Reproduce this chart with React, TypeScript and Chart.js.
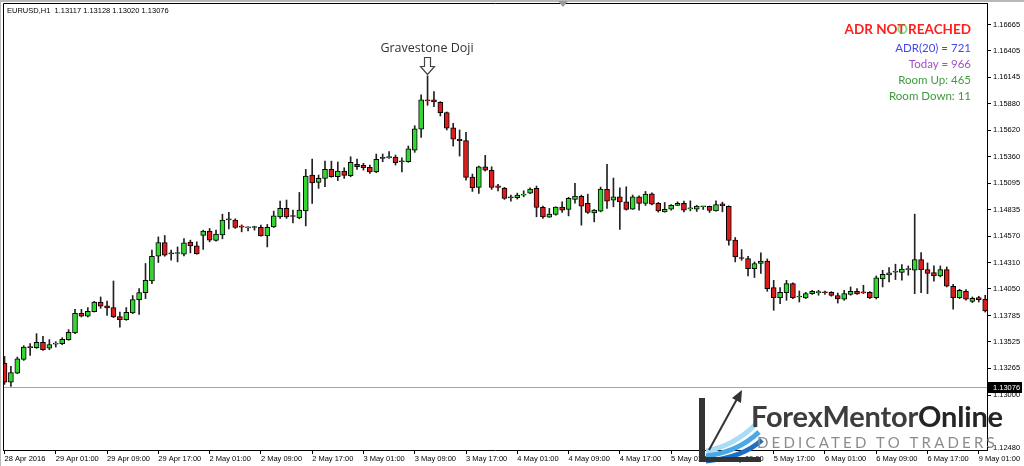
import React, { useEffect, useRef } from "react";
import { Chart, registerables } from "chart.js";

Chart.register(...registerables);

// ---- data (EURUSD H1, bar 0 = 28 Apr 2016 17:00) ----
const opens = [
  1.13316, 1.13127, 1.13217, 1.13352, 1.13471, 1.13468, 1.13521, 1.13464, 1.13504, 1.13508,
  1.13548, 1.13613, 1.13808, 1.13781, 1.13825, 1.1392, 1.13881, 1.13865, 1.13776, 1.13746,
  1.13811, 1.13944, 1.14013, 1.14128, 1.14373, 1.14509, 1.144, 1.144, 1.14393, 1.14512,
  1.14475, 1.14578, 1.14621, 1.14529, 1.14584, 1.14737, 1.1473, 1.14663, 1.14654, 1.14657,
  1.1466, 1.14574, 1.14663, 1.14763, 1.14846, 1.14772, 1.14753, 1.14822, 1.15176, 1.15103,
  1.15143, 1.15232, 1.15159, 1.15215, 1.15169, 1.15282, 1.15272, 1.15252, 1.15208, 1.15344,
  1.15349, 1.15354, 1.1531, 1.15308, 1.15423, 1.15629, 1.15914, 1.15919, 1.15896, 1.15793,
  1.15642, 1.1553, 1.15516, 1.15156, 1.15054, 1.15258, 1.15222, 1.1507, 1.15047, 1.14953,
  1.14951, 1.14977, 1.14997, 1.15044, 1.14856, 1.1476, 1.14786, 1.14859, 1.14836, 1.14935,
  1.14965, 1.14895, 1.14802, 1.14819, 1.15034, 1.14928, 1.14961, 1.14911, 1.14839, 1.14961,
  1.14895, 1.1499, 1.14895, 1.14812, 1.14839, 1.14876, 1.14895, 1.14842, 1.14839, 1.14862,
  1.14866, 1.14822, 1.14891, 1.14866, 1.14532, 1.14353, 1.1435, 1.14251, 1.14301, 1.14326,
  1.14063, 1.13964, 1.14013, 1.14102, 1.1397, 1.1396, 1.14003, 1.14013, 1.14013, 1.14016,
  1.13984, 1.13947, 1.13994, 1.14026, 1.14013, 1.14016, 1.13964, 1.14148, 1.14188, 1.14214,
  1.14212, 1.14241, 1.14234, 1.1434, 1.14241, 1.14212, 1.14178, 1.14241, 1.14076, 1.13964,
  1.14026, 1.13927, 1.13964, 1.13947,
];
const highs = [
  1.13382, 1.13283, 1.13375, 1.13488, 1.13508, 1.13607, 1.1358, 1.13548, 1.13528, 1.13567,
  1.13647, 1.13848, 1.13848, 1.13865, 1.13927, 1.1397, 1.1393, 1.14128, 1.13821, 1.13865,
  1.13984, 1.14053, 1.14301, 1.14433, 1.14564, 1.14578, 1.14433, 1.14465, 1.14548, 1.14532,
  1.14515, 1.14631, 1.14648, 1.14631, 1.14789, 1.14806, 1.14743, 1.14683, 1.14663, 1.1467,
  1.1468, 1.14687, 1.14819, 1.14919, 1.14929, 1.14829, 1.15004, 1.15232, 1.15334, 1.15176,
  1.15314, 1.15314, 1.15305, 1.15248, 1.15357, 1.15334, 1.15292, 1.15275, 1.15384, 1.15384,
  1.15407, 1.15374, 1.15347, 1.15463, 1.15664, 1.15969, 1.16157, 1.16001, 1.15902, 1.158,
  1.15688, 1.15622, 1.15599, 1.15186, 1.15265, 1.15371, 1.15258, 1.15084, 1.15054, 1.14978,
  1.14997, 1.1502, 1.1505, 1.15067, 1.14869, 1.14846, 1.14862, 1.14911, 1.14955, 1.15094,
  1.14978, 1.14987, 1.14836, 1.15057, 1.15282, 1.15146, 1.1505, 1.1506, 1.14978, 1.14971,
  1.15014, 1.15, 1.14905, 1.14905, 1.14885, 1.14911, 1.14918, 1.14921, 1.14876, 1.14864,
  1.14869, 1.14921, 1.14908, 1.14872, 1.14558, 1.14439, 1.14373, 1.14317, 1.14406, 1.14346,
  1.14135, 1.14063, 1.14135, 1.14109, 1.14029, 1.14016, 1.14036, 1.14036, 1.14029, 1.14023,
  1.14009, 1.14036, 1.14069, 1.14053, 1.14086, 1.14023, 1.14178, 1.14234, 1.14261, 1.14294,
  1.14291, 1.14277, 1.14789, 1.1441, 1.14307, 1.14277, 1.14277, 1.14267, 1.14096, 1.14046,
  1.14043, 1.1397, 1.13977, 1.13987,
];
const lows = [
  1.13105, 1.13085, 1.13211, 1.13342, 1.13392, 1.13461, 1.13441, 1.13448, 1.13474, 1.13498,
  1.13541, 1.13607, 1.13772, 1.13772, 1.13821, 1.13858, 1.13788, 1.13766, 1.13672, 1.13739,
  1.13805, 1.13798, 1.13954, 1.14102, 1.14311, 1.14373, 1.14333, 1.14317, 1.14376, 1.14406,
  1.14393, 1.1444, 1.14515, 1.14522, 1.14545, 1.14644, 1.14648, 1.14614, 1.14624, 1.14631,
  1.14571, 1.14465, 1.14657, 1.14747, 1.14747, 1.14703, 1.14743, 1.14673, 1.14895, 1.15044,
  1.1506, 1.15153, 1.15121, 1.15143, 1.15159, 1.15232, 1.15225, 1.15193, 1.15199, 1.15308,
  1.15341, 1.15275, 1.15208, 1.15302, 1.15401, 1.15549, 1.15866, 1.15853, 1.1576, 1.15622,
  1.15463, 1.15364, 1.15126, 1.15014, 1.14994, 1.15215, 1.15034, 1.1502, 1.14935, 1.14918,
  1.14938, 1.14961, 1.14992, 1.14763, 1.14747, 1.14757, 1.14779, 1.14806, 1.14772, 1.14898,
  1.1468, 1.14796, 1.14713, 1.14812, 1.14846, 1.14862, 1.14638, 1.14829, 1.14836, 1.14829,
  1.14875, 1.14881, 1.14809, 1.14809, 1.14829, 1.14874, 1.14812, 1.14822, 1.14816, 1.14836,
  1.14806, 1.14819, 1.14812, 1.14482, 1.14317, 1.14333, 1.14178, 1.14162, 1.14202, 1.14026,
  1.13838, 1.13904, 1.13937, 1.13954, 1.1392, 1.13954, 1.13994, 1.13987, 1.13994, 1.13977,
  1.1391, 1.13937, 1.13987, 1.13994, 1.14003, 1.13954, 1.1395, 1.14069, 1.14118, 1.14142,
  1.14135, 1.14185, 1.14003, 1.14013, 1.14003, 1.14125, 1.14168, 1.14069, 1.13848, 1.13954,
  1.13937, 1.13914, 1.1392, 1.13821,
];
const closes = [
  1.13127, 1.13221, 1.13359, 1.13474, 1.13468, 1.13521, 1.13448, 1.13498, 1.13508, 1.1355,
  1.1362, 1.13808, 1.13781, 1.13828, 1.1392, 1.13878, 1.13861, 1.13772, 1.13746, 1.13818,
  1.13944, 1.14013, 1.14135, 1.14373, 1.14509, 1.14383, 1.14396, 1.14403, 1.14505, 1.14475,
  1.14396, 1.14621, 1.14532, 1.14591, 1.1473, 1.14733, 1.14657, 1.14661, 1.14656, 1.14659,
  1.14574, 1.1466, 1.14772, 1.14846, 1.14763, 1.14766, 1.14829, 1.15166, 1.15099, 1.15143,
  1.15232, 1.15159, 1.15215, 1.15173, 1.15302, 1.15258, 1.15248, 1.15208, 1.15331, 1.15341,
  1.15351, 1.15298, 1.15307, 1.15436, 1.15632, 1.15919, 1.15909, 1.15899, 1.15793, 1.15639,
  1.1553, 1.15516, 1.15153, 1.1505, 1.15258, 1.15225, 1.15054, 1.15054, 1.14945, 1.1495,
  1.14978, 1.14979, 1.15037, 1.14856, 1.14763, 1.14789, 1.14859, 1.14829, 1.14945, 1.14968,
  1.14869, 1.14806, 1.14829, 1.15037, 1.14918, 1.14961, 1.14911, 1.14836, 1.14961, 1.14895,
  1.14987, 1.14888, 1.14822, 1.14836, 1.14876, 1.14895, 1.14829, 1.14844, 1.14869, 1.14863,
  1.14826, 1.14885, 1.14872, 1.14529, 1.14366, 1.1435, 1.14251, 1.14301, 1.14326, 1.14053,
  1.13964, 1.14016, 1.14102, 1.13964, 1.13972, 1.14003, 1.14026, 1.14015, 1.14012, 1.13984,
  1.1395, 1.14003, 1.14026, 1.13999, 1.14011, 1.13964, 1.14158, 1.14195, 1.14208, 1.14216,
  1.14247, 1.14243, 1.1434, 1.14241, 1.14202, 1.14178, 1.14241, 1.14076, 1.13964, 1.14036,
  1.13947, 1.13957, 1.13944, 1.13831,
];

const timeTickLabels = [
  "28 Apr 2016", "29 Apr 01:00", "29 Apr 09:00", "29 Apr 17:00", "2 May 01:00",
  "2 May 09:00", "2 May 17:00", "3 May 01:00", "3 May 09:00", "3 May 17:00",
  "4 May 01:00", "4 May 09:00", "4 May 17:00", "5 May 01:00", "5 May 09:00",
  "5 May 17:00", "6 May 01:00", "6 May 09:00", "6 May 17:00", "9 May 01:00",
];
const barsPerTimeTick = 8;

const priceTicks = [
  1.16665, 1.16405, 1.16145, 1.1588, 1.1562, 1.1536, 1.15095, 1.14835, 1.1457, 1.1431,
  1.1405, 1.13785, 1.13525, 1.13265, 1.13, 1.1248,
];
const priceMin = 1.12456;
const priceMax = 1.16878;
const currentPrice = 1.13076;

const headerText = "EURUSD,H1  1.13117 1.13128 1.13020 1.13076";
const annotationText = "Gravestone Doji";
const adrTitle = "ADR NOT REACHED";
const adrLines = ["ADR(20) = 721", "Today = 966", "Room Up: 465", "Room Down: 11"];
const adrColors = ["#4646ee", "#a050c0", "#3e9e3e", "#3c9a3c"];

const BULL = "#33d633";
const BEAR = "#dd1c1c";
const AXIS_FONT = { family: "'Liberation Sans', Arial, sans-serif", size: 7.5 };

const mtPlugin = {
  id: "mtExtras",
  beforeDatasetsDraw(chart: any) {
    const { ctx, chartArea: a, scales } = chart;
    const py = Math.round(scales.y.getPixelForValue(currentPrice)) + 0.5;
    ctx.save();
    ctx.strokeStyle = "#a4a4a4";
    ctx.lineWidth = 1;
    ctx.beginPath();
    ctx.moveTo(a.left, py);
    ctx.lineTo(a.right, py);
    ctx.stroke();
    ctx.restore();
  },
  afterDraw(chart: any) {
    const { ctx, chartArea: a, scales } = chart;
    ctx.save();
    ctx.strokeStyle = "#000";
    ctx.lineWidth = 1;
    ctx.beginPath();
    ctx.moveTo(a.left + 0.5, a.bottom);
    ctx.lineTo(a.left + 0.5, a.top + 0.5);
    ctx.lineTo(a.right, a.top + 0.5);
    ctx.stroke();
    // current price tag on the axis
    const py = Math.round(scales.y.getPixelForValue(currentPrice));
    ctx.fillStyle = "#000";
    ctx.fillRect(a.right + 1, py - 5, 1022 - a.right - 1, 11);
    ctx.fillStyle = "#fff";
    ctx.font = "7.5px 'Liberation Sans', Arial, sans-serif";
    ctx.textBaseline = "middle";
    ctx.textAlign = "left";
    ctx.fillText(currentPrice.toFixed(5), a.right + 6, py + 0.5);
    ctx.restore();
  },
};

export default function App() {
  const canvasRef = useRef<HTMLCanvasElement | null>(null);

  useEffect(() => {
    const canvas = canvasRef.current;
    if (!canvas) return;
    const bodies = opens.map((o, i) => ({ x: i, y: [o, closes[i]] }));
    const wicks = lows.map((l, i) => ({ x: i, y: [l, highs[i]] }));
    const bodyColors = opens.map((o, i) => (closes[i] >= o ? BULL : BEAR));

    const chart = new Chart(canvas, {
      type: "bar",
      data: {
        datasets: [
          {
            label: "body",
            data: bodies as any,
            backgroundColor: bodyColors,
            borderColor: "#000",
            borderWidth: 1,
            borderSkipped: false,
            barThickness: 5,
            minBarLength: 1,
            grouped: false,
            order: 0,
          } as any,
          {
            label: "wick",
            data: wicks as any,
            backgroundColor: "#222",
            borderWidth: 0,
            barThickness: 1,
            grouped: false,
            order: 1,
          } as any,
        ],
      },
      options: {
        animation: false,
        responsive: false,
        devicePixelRatio: 1,
        events: [],
        layout: { padding: { left: 3, top: 3, right: 0, bottom: 0 } },
        plugins: { legend: { display: false }, tooltip: { enabled: false } },
        scales: {
          x: {
            type: "linear",
            min: -0.234,
            max: 153.28,
            offset: false,
            grid: { display: true, drawOnChartArea: false, drawTicks: true, tickLength: 4, color: "#000", offset: false },
            border: { display: true, color: "#000" },
            ticks: {
              autoSkip: false,
              maxRotation: 0,
              minRotation: 0,
              align: "start",
              padding: 0,
              color: "#000",
              font: AXIS_FONT,
              callback: (v: any) => timeTickLabels[Math.round(Number(v) / barsPerTimeTick)] ?? "",
            },
            afterBuildTicks: (s: any) => {
              s.ticks = timeTickLabels.map((_, k) => ({ value: k * barsPerTimeTick }));
            },
            afterFit: (s: any) => {
              s.height = 16;
              s.paddingLeft = 0;
              s.paddingRight = 0;
            },
          } as any,
          y: {
            type: "linear",
            position: "right",
            min: priceMin,
            max: priceMax,
            beginAtZero: false,
            grid: { display: true, drawOnChartArea: false, drawTicks: true, tickLength: 4, color: "#000" },
            border: { display: true, color: "#000" },
            ticks: {
              autoSkip: false,
              padding: 2,
              color: "#000",
              font: AXIS_FONT,
              callback: (v: any) => Number(v).toFixed(5),
            },
            afterBuildTicks: (s: any) => {
              s.ticks = priceTicks.map((v) => ({ value: v }));
            },
            afterFit: (s: any) => {
              s.width = 37;
              s.paddingTop = 0;
              s.paddingBottom = 0;
            },
          } as any,
        },
      },
      plugins: [mtPlugin],
    });
    return () => chart.destroy();
  }, []);

  const abs: React.CSSProperties = { position: "absolute", whiteSpace: "nowrap", pointerEvents: "none" };

  return (
    <div style={{ position: "absolute", left: 0, top: 0, width: 1024, height: 466, background: "#fff", overflow: "hidden" }}>
      <canvas ref={canvasRef} width={1024} height={466} style={{ display: "block", position: "absolute", left: 0, top: 0 }} />
      {/* window edges */}
      <div style={{ ...abs, left: 0, top: 0, width: 1024, height: 2, background: "#b8b8b8" }} />
      <div style={{ ...abs, left: 0, top: 0, width: 1, height: 466, background: "#b8b8b8" }} />
      {/* header */}
      <div style={{ ...abs, left: 7, top: 6, font: "7.5px 'Liberation Sans', Arial, sans-serif", color: "#000", lineHeight: "9px" }}>
        {headerText.replace("  ", "\u00a0\u00a0")}
      </div>
      {/* ADR block */}
      <div style={{ ...abs, right: 53, top: 22, font: "bold 13.5px Lato, sans-serif", color: "#ff1e1e", lineHeight: "14px", textAlign: "right" }}>
        {adrTitle}
      </div>
      <div style={{ ...abs, right: 53 + 63, top: 22, font: "bold 13.5px Lato, sans-serif", color: "rgba(40,200,40,0.6)", lineHeight: "14px" }}>
        {"O"}
      </div>
      {adrLines.map((t, k) => (
        <div key={t} style={{ ...abs, right: 53, top: 41 + k * 16, font: "11.5px Lato, sans-serif", color: adrColors[k], lineHeight: "13px", textAlign: "right" }}>
          {t}
        </div>
      ))}
      {/* annotation */}
      <div style={{ ...abs, left: 427, top: 40, transform: "translateX(-50%)", font: "12.5px 'Open Sans', sans-serif", color: "#333", lineHeight: "16px" }}>
        {annotationText}
      </div>
      <svg width={1024} height={466} style={{ position: "absolute", left: 0, top: 0, pointerEvents: "none" }}>
        <polygon points="558,1 568,1 563,7" fill="#9a9a9a" />
        <path d="M424.5,57.5 h6 v9 h4 l-7,8 l-7,-8 h4 z" fill="#fff" stroke="#444" strokeWidth={1.2} />
        {/* logo mark */}
        <path d="M706,451 Q734,446 756,424" stroke="#a9dcf6" strokeWidth={5} fill="none" />
        <path d="M706,456 Q738,452 759,432" stroke="#4aa8e6" strokeWidth={5} fill="none" />
        <path d="M706,461 Q742,458 762,440" stroke="#1e6fc2" strokeWidth={5} fill="none" />
        <rect x={699} y={398} width={6} height={64} fill="#333" />
        <rect x={699} y={457} width={62} height={5} fill="#333" />
        <path d="M709,450 L737,399" stroke="#333" strokeWidth={2} fill="none" />
        <polygon points="732,398 742,390 741,403" fill="#333" />
      </svg>
      <div style={{ ...abs, left: 751, top: 398, font: "bold 29px Lato, sans-serif", lineHeight: "36px", letterSpacing: "-0.2px" }}>
        <span style={{ color: "#3d3d3d" }}>ForexMentor</span>
        <span style={{ color: "#242424" }}>Online</span>
      </div>
      <div style={{ ...abs, left: 757, top: 433, font: "15px Lato, sans-serif", lineHeight: "18px", letterSpacing: "3.2px", color: "#8c8c8c" }}>
        DEDICATED TO TRADERS
      </div>
    </div>
  );
}
